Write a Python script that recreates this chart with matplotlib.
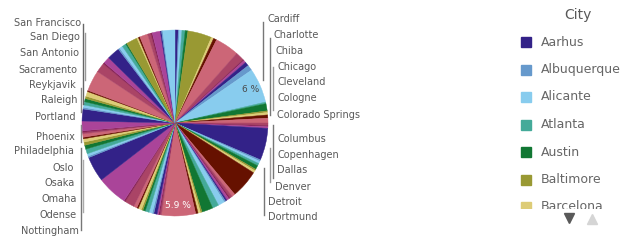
import matplotlib
matplotlib.use("Agg")
import matplotlib.pyplot as plt
from matplotlib.patches import Rectangle

# Qlik 12-colour palette, assigned to cities in alphabetical order
palette = ['#332288', '#6699cc', '#88ccee', '#44aa99', '#117733', '#999933',
           '#ddcc77', '#661100', '#cc6677', '#aa4466', '#882255', '#aa4499']

# share of each city (%), clockwise from 12 o'clock, alphabetical
shares = [0.56, 0.22, 0.42, 0.56, 0.47, 4.17, 0.42, 0.56, 4.17, 1.53, 0.22, 0.42,
          0.69, 0.97, 6.00, 0.28, 1.25, 0.28, 0.42, 0.56, 0.83, 0.42, 0.22, 0.28,
          5.56, 0.28, 0.42, 0.42, 0.69, 0.28, 0.42, 4.92, 0.56, 0.42, 0.28, 0.42,
          0.28, 0.28, 1.11, 1.11, 1.94, 0.28, 0.42, 0.42, 5.90, 0.28, 0.22, 0.28,
          0.56, 0.28, 0.56, 0.69, 0.42, 0.28, 0.56, 0.28, 0.56, 1.67, 0.28, 5.28,
          4.40, 0.28, 0.42, 0.83, 0.69, 0.56, 0.56, 0.28, 0.56, 0.28, 0.28, 1.67,
          2.08, 0.28, 0.42, 0.56, 0.56, 0.42, 0.83, 0.22, 3.60, 1.67, 0.28, 1.11,
          2.22, 0.28, 0.56, 0.69, 0.22, 1.94, 0.28, 0.28, 1.39, 0.56, 0.28, 1.39,
          0.22, 0.22, 2.10]
slice_colors = [palette[i % 12] for i in range(len(shares))]

left_labels = ['San Francisco', 'San Diego', 'San Antonio', 'Sacramento', 'Reykjavik',
               'Raleigh', 'Portland', 'Phoenix', 'Philadelphia', 'Oslo', 'Osaka',
               'Omaha', 'Odense', 'Nottingham']
right_labels = ['Cardiff', 'Charlotte', 'Chiba', 'Chicago', 'Cleveland', 'Cologne',
                'Colorado Springs', 'Columbus', 'Copenhagen', 'Dallas', 'Denver',
                'Detroit', 'Dortmund']
legend_cities = ['Aarhus', 'Albuquerque', 'Alicante', 'Atlanta', 'Austin',
                 'Baltimore', 'Barcelona']

# label layout in pixels
left_x = [81, 80, 79, 77, 76, 77, 75, 75, 74, 74, 75, 77, 77, 79]
left_y = [23, 37, 53, 70, 85, 100, 117, 137, 151, 168, 183, 199, 215, 231]
right_x = [267, 273, 276, 277, 277, 277, 277, 277, 277, 277, 275, 268, 268]
right_y = [19, 35, 51, 67, 82, 98, 115, 139, 155, 170, 187, 202, 217]

W, H = 632, 250
fig = plt.figure(figsize=(W / 100, H / 100), dpi=100)

cx, cy, r = 175, 123, 93
pa = fig.add_axes([(cx - r) / W, (H - cy - r) / H, 2 * r / W, 2 * r / H])


def pct_label(p):
    if p < 5.8:
        return ''
    s = f'{p:.1f}'
    if s.endswith('.0'):
        s = s[:-2]
    return s + ' %'


wedges, _, autotexts = pa.pie(shares, colors=slice_colors, startangle=90,
                              counterclock=False, autopct=pct_label,
                              pctdistance=0.89, wedgeprops=dict(linewidth=0.3))
for w in wedges:
    w.set_edgecolor(w.get_facecolor())
for t in autotexts:
    t.set_fontsize(6.5)
autotexts[14].set_color('#4a4a4a')
autotexts[44].set_color('white')
pa.set_xlim(-1, 1)
pa.set_ylim(-1, 1)
pa.set_aspect('equal')
pa.axis('off')

ov = fig.add_axes([0, 0, 1, 1])
ov.set_xlim(0, W)
ov.set_ylim(H, 0)
ov.axis('off')

txt = '#595959'
for name, x, y in zip(left_labels, left_x, left_y):
    ov.text(x, y, name, ha='right', va='center', fontsize=7, color=txt)
for name, x, y in zip(right_labels, right_x, right_y):
    ov.text(x, y, name, ha='left', va='center', fontsize=7, color=txt)

# leader lines
segments = [(83, 24, 104, '#666666'), (85, 33, 80, '#999999'), (81, 88, 112, '#888888'),
            (81, 125, 142, '#888888'), (81, 148, 230, '#777777'), (83, 160, 212, '#aaaaaa'),
            (263, 22, 80, '#777777'), (270, 38, 115, '#777777'), (273, 67, 110, '#999999'),
            (273, 125, 178, '#777777'), (270, 148, 182, '#999999'), (264, 168, 215, '#777777')]
for x, y0, y1, c in segments:
    ov.plot([x, x], [y0, y1], color=c, lw=1)

# legend
ov.text(578, 15, 'City', ha='center', va='center', fontsize=10, color=txt)
lg = fig.add_axes([500 / W, (H - 208.5) / H, 132 / W, (208.5 - 28) / H])
lg.set_xlim(500, 632)
lg.set_ylim(208.5, 28)
lg.axis('off')
for i, city in enumerate(legend_cities):
    y = 42 + i * 27.5
    lg.add_patch(Rectangle((520.5, y - 5), 10, 10, color=palette[i % 12], clip_on=True))
    lg.text(541, y, city, ha='left', va='center', fontsize=9, color='#666666', clip_on=True)

ov.plot([569], [218], marker='v', markersize=7, color='#595959', linestyle='none')
ov.plot([592], [219], marker='^', markersize=7, color='#d5d5d5', linestyle='none')

fig.savefig('out.png', dpi=100)
